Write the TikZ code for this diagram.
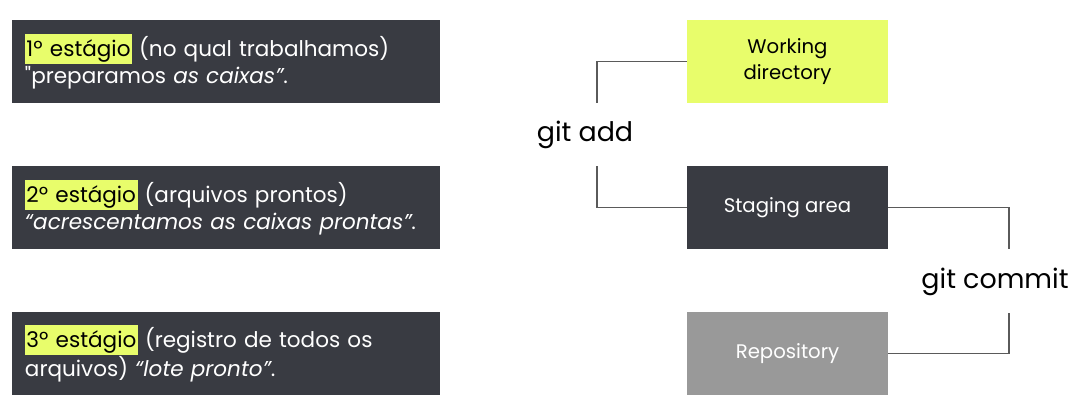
\documentclass[tikz,border=0pt]{standalone}
\usepackage{fontspec}
\setmainfont{Poppins}[Ligatures=TeXOff]
\usepackage{xcolor}
\usepackage{tikz}

\definecolor{slate}{HTML}{393B42}
\definecolor{lime}{HTML}{E8FD6B}
\definecolor{repogray}{HTML}{999999}
\definecolor{wiregray}{HTML}{5A5A5A}

\newcommand{\hilite}[1]{{\setlength{\fboxsep}{0.3mm}\colorbox{lime}{\rule[-0.26em]{0pt}{1.26em}\color{black}#1}}}

\begin{document}
\begin{tikzpicture}[x=0.2mm,y=-0.2mm,
    stage/.style={fill=slate,text=white,minimum width=85.6mm,minimum height=16.6mm,
      text width=80.4mm,align=left,inner xsep=2.6mm,inner ysep=0,
      font=\fontsize{12.25}{15.4}\selectfont},
    area/.style={minimum width=40.2mm,minimum height=16.6mm,inner sep=0,align=center,
      font=\fontsize{11.2}{15}\selectfont},
    cmd/.style={inner sep=0,font=\fontsize{15.3}{18}\selectfont},
    wire/.style={draw=wiregray,line width=0.6pt}]
      \useasboundingbox (0,0) rectangle (1078,409);
      % the three stages
      \node (s1) at (226,61.5) [stage] {\hilite{1º estágio} (no qual trabalhamos)\\"preparamos \textit{as caixas”}.};
      \node (s2) at (226,207.5) [stage] {\hilite{2º estágio} (arquivos prontos)\\\textit{“acrescentamos as caixas prontas”}.};
      \node (s3) at (226,353.5) [stage] {\hilite{3º estágio} (registro de todos os\\arquivos) \textit{“lote pronto”}.};
      % the areas
      \node (wd) at (787.5,61.5) [area,fill=lime] {Working\\directory};
      \node (sa) at (787.5,207.5) [area,fill=slate,text=white] {Staging area};
      \node (repo) at (787.5,353.5) [area,fill=repogray,text=white] {Repository};
      % commands
      \node (add) at (585,135) [cmd] {git add};
      \node (commit) at (995,282) [cmd] {git commit};
      \coordinate (addin) at (597,103);
      \coordinate (addout) at (597,166);
      \coordinate (comin) at (1009,249);
      \coordinate (comout) at (1009,313);
      \draw [wire] (wd.west) -| (addin);
      \draw [wire] (addout) |- (sa.west);
      \draw [wire] (sa.east) -| (comin);
      \draw [wire] (comout) |- (repo.east);
\end{tikzpicture}
\end{document}
